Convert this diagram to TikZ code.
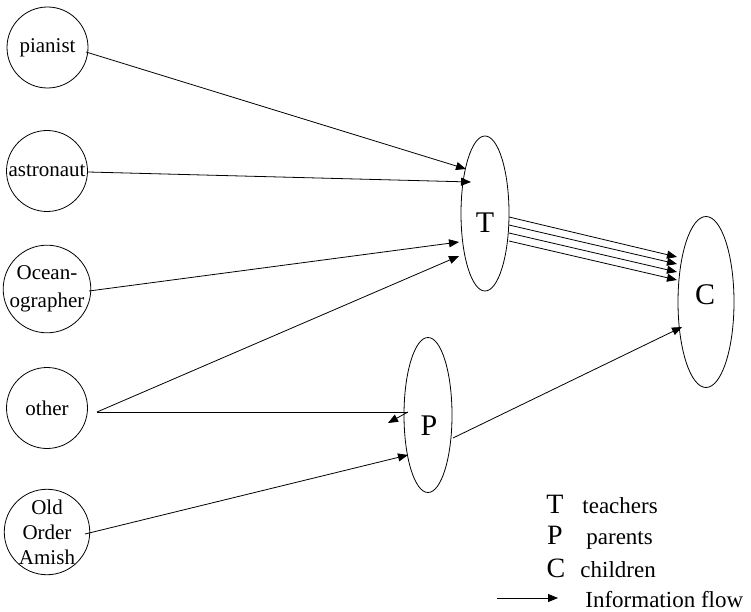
\documentclass[tikz,border=0pt]{standalone}
\usepackage{fontspec}
\setmainfont{Liberation Serif}
\usetikzlibrary{shapes.geometric,arrows.meta}
\begin{document}
\begin{tikzpicture}[x=1pt,y=-1pt,
  line width=0.8pt,
  circ/.style={draw,circle,minimum size=81pt,inner sep=0pt,font=\fontsize{21}{25}\selectfont,align=center},
  ell/.style={draw,ellipse,inner sep=0pt},
  big/.style={font=\fontsize{30}{30}\selectfont,inner sep=0pt},
  flow/.style={-{Triangle[length=10pt,width=8pt]}},
  legl/.style={font=\fontsize{28}{28}\selectfont,inner sep=0pt,anchor=base},
  legt/.style={font=\fontsize{23}{23}\selectfont,inner sep=0pt,anchor=base west},
]
\useasboundingbox (0,0) rectangle (751,612);
% source circles
\node[circ] (pianist) at (47.5,47.5) {pianist};
\node[circ] (astro) at (47,171) {astronaut};
\node[circ,font=\fontsize{21}{28}\selectfont] (ocean) at (47,289) {Ocean-\\ographer};
\node[circ] (other) at (47,408) {other};
\node[circ] (amish) at (47,532) {Old\\Order\\Amish};
% ellipses
\node[ell,minimum width=48pt,minimum height=155pt] (T) at (485,213.5) {};
\node[ell,minimum width=48pt,minimum height=155pt] (P) at (428,415) {};
\node[ell,minimum width=56pt,minimum height=171pt] (C) at (706,302) {};
\node[big] (Tl) at ([shift={(0,9.5)}]T.center) {T};
\node[big] (Pl) at ([shift={(1,11)}]P.center) {P};
\node[big] (Cl) at ([shift={(-1,-7)}]C.center) {C};
% connectors
\draw[flow] ([shift={(38.5,4.5)}]pianist.center) -- ([shift={(-19,-44.5)}]T.center);
\draw[flow] ([shift={(41,1)}]astro.center) -- ([shift={(-14,-31.5)}]T.center);
\draw[flow] ([shift={(42,2)}]ocean.center) -- ([shift={(-26,28.5)}]T.center);
\draw[flow] ([shift={(50,4)}]other.center) -- ([shift={(-26,42.5)}]T.center);
\draw ([shift={(50,4)}]other.center) -- ([shift={(-20,-3)}]P.center) coordinate (hk);
\draw[flow] (hk) -- ([shift={(-40,8)}]P.center);
\draw[flow] ([shift={(38,2)}]amish.center) -- ([shift={(-20,40)}]P.center);
\draw[flow] ([shift={(25,23)}]P.center) -- ([shift={(-24,25)}]C.center);
\foreach \a/\b in {3.5/-45,11.5/-38,19.5/-30,27.5/-22}
  \draw[flow] ([shift={(24,\a)}]T.center) -- ([shift={(-29,\b)}]C.center);
% legend
\node[legl] (lT) at (555,513) {T};
\node[legt] (lTt) at (582,513) {teachers};
\node[legl] (lP) at (555,544) {P};
\node[legt] (lPt) at (586,544) {parents};
\node[legl] (lC) at (556,577) {C};
\node[legt] (lCt) at (580,577) {children};
\coordinate (la) at (497,598);
\coordinate (lb) at (558,598);
\draw[flow] (la) -- (lb);
\node[legt] (lF) at (585,607) {Information flow};
\end{tikzpicture}
\end{document}
